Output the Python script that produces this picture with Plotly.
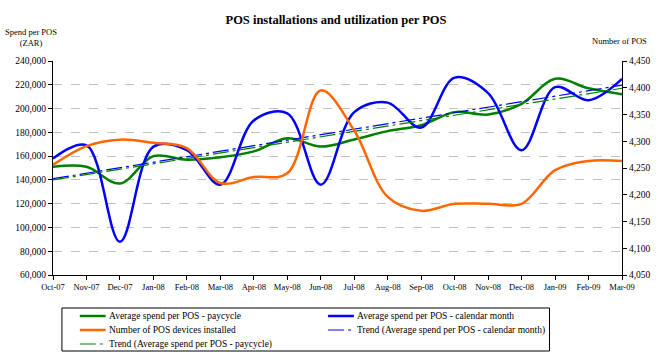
import numpy as np
import plotly.graph_objects as go

months = ["Oct-07", "Nov-07", "Dec-07", "Jan-08", "Feb-08", "Mar-08", "Apr-08", "May-08", "Jun-08",
          "Jul-08", "Aug-08", "Sep-08", "Oct-08", "Nov-08", "Dec-08", "Jan-09", "Feb-09", "Mar-09"]

spend_calendar = [158000, 169000, 88000, 168000, 165000, 136000, 190000, 196000, 136000,
                  197000, 205000, 184000, 226000, 213000, 165000, 218000, 207000, 225000]
spend_paycycle = [151000, 151000, 137000, 160000, 157000, 159000, 164000, 175000, 168000,
                  174000, 181000, 186000, 197000, 195000, 204000, 225000, 217000, 212000]
pos_devices = [4256, 4291, 4303, 4297, 4287, 4222, 4233, 4240, 4395,
               4320, 4196, 4170, 4183, 4183, 4183, 4246, 4263, 4263]

left_ticks = list(range(60000, 240001, 20000))
right_ticks = list(range(4050, 4451, 50))

series_names = ["Average spend per POS - paycycle",
                "Average spend per POS - calendar month",
                "Number of POS devices installed",
                "Trend (Average spend per POS - calendar month)",
                "Trend (Average spend per POS - paycycle)"]

GREEN, BLUE, ORANGE = "#008000", "#0000FF", "#FF6600"
TREND_DASH = "16px,4px,3px,4px"
FONT = "Liberation Serif, Times New Roman, serif"

idx = np.arange(len(months))
trend_cal = np.polyval(np.polyfit(idx, spend_calendar, 1), idx)
trend_pay = np.polyval(np.polyfit(idx, spend_paycycle, 1), idx)

W, H = 663, 363
ML, MR, MT, MB = 53, 37, 61, 88
PW, PH = W - ML - MR, H - MT - MB


def px(x):
    return (x - ML) / PW


def py(y):
    return (H - MB - y) / PH


fig = go.Figure()
fig.add_trace(go.Scatter(x=idx, y=spend_paycycle, mode="lines", name=series_names[0],
                         line=dict(color=GREEN, width=2.5, shape="spline")))
fig.add_trace(go.Scatter(x=idx, y=spend_calendar, mode="lines", name=series_names[1],
                         line=dict(color=BLUE, width=2.5, shape="spline")))
fig.add_trace(go.Scatter(x=idx, y=pos_devices, mode="lines", name=series_names[2],
                         line=dict(color=ORANGE, width=2.5, shape="spline"), yaxis="y2"))
fig.add_trace(go.Scatter(x=idx, y=trend_cal, mode="lines", name=series_names[3],
                         line=dict(color=BLUE, width=1.2, dash=TREND_DASH)))
fig.add_trace(go.Scatter(x=idx, y=trend_pay, mode="lines", name=series_names[4],
                         line=dict(color=GREEN, width=1.2, dash=TREND_DASH)))

# legend box (drawn manually to match the compact two-column layout)
legend_items = [
    (series_names[0], GREEN, 2.5, None, 0, 0),
    (series_names[1], BLUE, 2.5, None, 1, 0),
    (series_names[2], ORANGE, 2.5, None, 0, 1),
    (series_names[3], BLUE, 1.2, TREND_DASH, 1, 1),
    (series_names[4], GREEN, 1.2, TREND_DASH, 0, 2),
]
box_x0, box_x1, box_y0, box_y1 = 62, 553, 308, 351
col_x = [80, 330]
row_y = [316, 330, 344]
sample_len = 26

shapes = [dict(type="rect", xref="paper", yref="paper", x0=px(box_x0), x1=px(box_x1),
               y0=py(box_y1), y1=py(box_y0), line=dict(color="black", width=1), fillcolor="white")]
annotations = []
for name, color, width, dash, c, r in legend_items:
    x0 = col_x[c]
    y = row_y[r]
    ln = dict(color=color, width=width)
    if dash:
        ln["dash"] = dash
    shapes.append(dict(type="line", xref="paper", yref="paper", x0=px(x0), x1=px(x0 + sample_len),
                       y0=py(y), y1=py(y), line=ln))
    annotations.append(dict(text=name, xref="paper", yref="paper", x=px(x0 + sample_len + 1), y=py(y),
                            xanchor="left", yanchor="middle", showarrow=False,
                            font=dict(family=FONT, size=9.5, color="black")))

annotations += [
    dict(text="Spend per POS<br>(ZAR)", xref="paper", yref="paper", x=px(31), y=py(37),
         xanchor="center", yanchor="middle", showarrow=False, font=dict(family=FONT, size=8.5)),
    dict(text="Number of POS", xref="paper", yref="paper", x=px(623), y=py(41),
         xanchor="center", yanchor="middle", showarrow=False, font=dict(family=FONT, size=8.5)),
]

fig.update_layout(
    width=W, height=H,
    margin=dict(l=ML, r=MR, t=MT, b=MB),
    paper_bgcolor="white", plot_bgcolor="white",
    font=dict(family=FONT, size=10, color="black"),
    title=dict(text="<b>POS installations and utilization per POS</b>", x=336 / W, xanchor="center",
               y=1 - 20 / H, yanchor="middle", yref="container", font=dict(family=FONT, size=12.5)),
    xaxis=dict(range=[0, 17], tickvals=list(idx), ticktext=months, showline=True, linecolor="black",
               linewidth=1, ticks="outside", ticklen=4, tickcolor="black", showgrid=False, zeroline=False,
               tickfont=dict(size=8.5)),
    yaxis=dict(range=[60000, 240000], tickvals=left_ticks, tickformat=",", showline=True, linecolor="black",
               linewidth=1, ticks="outside", ticklen=4, tickcolor="black", showgrid=True,
               gridcolor="#c0c0c0", griddash="dash", gridwidth=1, zeroline=False, tickfont=dict(size=9.5)),
    yaxis2=dict(range=[4050, 4450], tickvals=right_ticks, tickformat=",", overlaying="y", side="right",
                showline=True, linecolor="black", linewidth=1, ticks="outside", ticklen=4, tickcolor="black",
                showgrid=False, zeroline=False, tickfont=dict(size=9.5)),
    showlegend=False,
    shapes=shapes,
    annotations=annotations,
)

fig.write_html("out.html", config={"displayModeBar": False},
               post_script="document.body.style.margin='0';document.body.style.padding='0';")
